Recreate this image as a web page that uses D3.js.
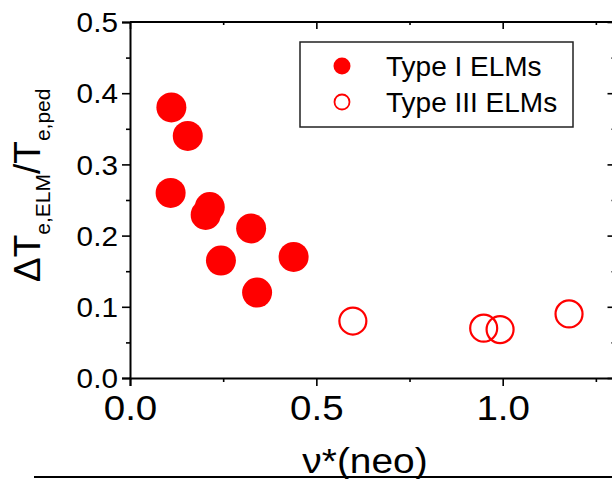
<!DOCTYPE html>
<html><head><meta charset="utf-8">
<script src="https://cdnjs.cloudflare.com/ajax/libs/d3/7.8.5/d3.min.js"></script>
<style>
html,body{margin:0;padding:0;background:#fff;}
svg text{font-family:"Liberation Sans",Arial,sans-serif;fill:#000;}
</style></head>
<body><svg id="c" width="612" height="479"></svg>
<script>
// Data
const typeI_x = [0.111, 0.155, 0.109, 0.214, 0.203, 0.325, 0.244, 0.439, 0.341];
const typeI_y = [0.380, 0.340, 0.260, 0.240, 0.229, 0.210, 0.165, 0.170, 0.120];
const typeIII_x = [0.598, 0.949, 0.993, 1.178];
const typeIII_y = [0.080, 0.070, 0.068, 0.090];
const xTicks = [0.0, 0.5, 1.0];
const xMinor = [0.25, 0.75, 1.25];
const yTicks = [0.0, 0.1, 0.2, 0.3, 0.4, 0.5];
const yMinor = [0.05, 0.15, 0.25, 0.35, 0.45];
const legendLabels = ["Type I ELMs", "Type III ELMs"];

const svg = d3.select("#c");
const x = d3.scaleLinear().domain([0, 1.3]).range([130, 614.5]);
const y = d3.scaleLinear().domain([0, 0.5]).range([378, 22]);
const red = "#ff0000";

// Axes
const fmt = d3.format(".1f");
const axL = svg.append("g").attr("transform", `translate(${x(0)},0)`)
  .call(d3.axisLeft(y).tickValues(yTicks).tickFormat(fmt).tickSize(8).tickPadding(4));
const axLm = svg.append("g").attr("transform", `translate(${x(0)},0)`)
  .call(d3.axisLeft(y).tickValues(yMinor).tickFormat("").tickSize(4));
const axB = svg.append("g").attr("transform", `translate(0,${y(0)})`)
  .call(d3.axisBottom(x).tickValues(xTicks).tickFormat(fmt).tickSize(8).tickPadding(8));
const axBm = svg.append("g").attr("transform", `translate(0,${y(0)})`)
  .call(d3.axisBottom(x).tickValues(xMinor).tickFormat("").tickSize(4));
const axT = svg.append("g").attr("transform", `translate(0,${y(0.5)})`)
  .call(d3.axisBottom(x).tickValues(xTicks).tickFormat("").tickSize(7));
const axTm = svg.append("g").attr("transform", `translate(0,${y(0.5)})`)
  .call(d3.axisBottom(x).tickValues(xMinor).tickFormat("").tickSize(3));
const axR = svg.append("g").attr("transform", `translate(${x(1.3)},0)`)
  .call(d3.axisLeft(y).tickValues(yTicks).tickFormat("").tickSize(7));
const axRm = svg.append("g").attr("transform", `translate(${x(1.3)},0)`)
  .call(d3.axisLeft(y).tickValues(yMinor).tickFormat("").tickSize(3));

svg.selectAll(".domain").attr("stroke", "#000").attr("stroke-width", 2);
svg.selectAll(".tick line").attr("stroke", "#000").attr("stroke-width", 1.6);
axT.select(".domain").remove(); axTm.select(".domain").remove();
axR.select(".domain").remove(); axRm.select(".domain").remove();
axLm.select(".domain").remove(); axBm.select(".domain").remove();
// top/right frame lines
svg.append("line").attr("x1", x(0)).attr("x2", x(1.3)).attr("y1", y(0.5)).attr("y2", y(0.5))
  .attr("stroke", "#000").attr("stroke-width", 2);

axL.selectAll(".tick text").attr("font-size", 27).attr("font-family", "Liberation Sans")
  .attr("x", -11).attr("dy", "0.36em").attr("transform", "scale(1.1,1)");
axB.selectAll(".tick text").attr("font-size", 35).attr("font-family", "Liberation Sans")
  .attr("dy", "0.71em").attr("y", 17).attr("transform", "scale(1.1,1)");

// Points
svg.append("g").selectAll("circle").data(typeI_x.map((v, i) => [v, typeI_y[i]])).join("circle")
  .attr("cx", d => x(d[0])).attr("cy", d => y(d[1])).attr("r", 15).attr("fill", red);
svg.append("g").selectAll("circle").data(typeIII_x.map((v, i) => [v, typeIII_y[i]])).join("circle")
  .attr("cx", d => x(d[0])).attr("cy", d => y(d[1])).attr("r", 13.5)
  .attr("fill", "none").attr("stroke", red).attr("stroke-width", 2.2);

// Legend
const lg = svg.append("g");
lg.append("rect").attr("x", 300).attr("y", 42).attr("width", 273).attr("height", 85)
  .attr("fill", "#fff").attr("stroke", "#222").attr("stroke-width", 1.5);
lg.append("circle").attr("cx", 342).attr("cy", 66).attr("r", 8.5).attr("fill", red);
lg.append("circle").attr("cx", 342).attr("cy", 102).attr("r", 7.5).attr("fill", "none")
  .attr("stroke", red).attr("stroke-width", 1.8);
lg.selectAll("text.lt").data(legendLabels).join("text").attr("class", "lt")
  .attr("x", 386).attr("y", (d, i) => 76 + i * 36).attr("font-size", 28).text(d => d);

// Y title
const yt = svg.append("text").attr("transform", "translate(40,282) rotate(-90)")
  .attr("font-size", 37);
yt.append("tspan").text("\u0394T");
yt.append("tspan").attr("font-size", 21).attr("dy", 10).text("e,ELM");
yt.append("tspan").attr("dy", -10).text("/T");
yt.append("tspan").attr("font-size", 21).attr("dy", 10).text("e,ped");

// X title
svg.append("text").attr("x", 365).attr("y", 473).attr("text-anchor", "middle")
  .attr("font-size", 36).attr("transform", "translate(365,0) scale(1.08,1) translate(-365,0)")
  .text("\u03bd*(neo)");

// bottom rule
svg.append("line").attr("x1", 34).attr("x2", 612).attr("y1", 477).attr("y2", 477)
  .attr("stroke", "#000").attr("stroke-width", 2);
</script></body></html>
